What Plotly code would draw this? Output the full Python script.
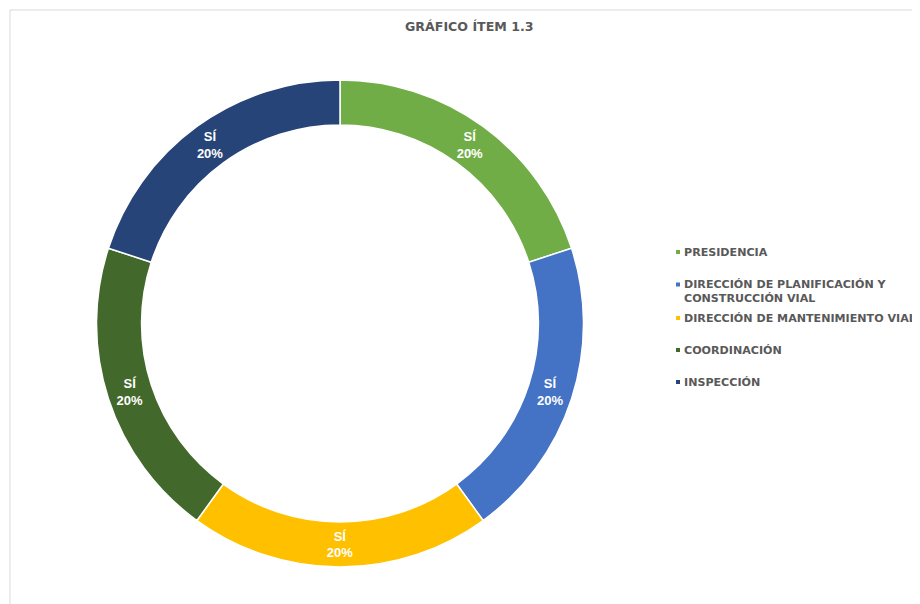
import plotly.graph_objects as go

categories = ["PRESIDENCIA", "DIRECCIÓN DE PLANIFICACIÓN Y CONSTRUCCIÓN VIAL",
              "DIRECCIÓN DE MANTENIMIENTO VIAL", "COORDINACIÓN", "INSPECCIÓN"]
legend_labels = ["PRESIDENCIA", "DIRECCIÓN DE PLANIFICACIÓN Y<br>CONSTRUCCIÓN VIAL",
                 "DIRECCIÓN DE MANTENIMIENTO VIAL", "COORDINACIÓN", "INSPECCIÓN"]
values = [20, 20, 20, 20, 20]
answer = ["SÍ", "SÍ", "SÍ", "SÍ", "SÍ"]
colors = ["#70AD47", "#4472C4", "#FFC000", "#43682B", "#264478"]

W, H = 920, 604
OFF = 8  # page body margin


def px(x):
    return (x - OFF) / W


def py(y):
    return 1 - (y - OFF) / H


fig = go.Figure(go.Pie(
    labels=categories,
    values=values,
    text=answer,
    texttemplate="<b>%{text}<br>%{percent:.0%}</b>",
    textposition="inside",
    insidetextorientation="horizontal",
    textfont=dict(family="Liberation Sans, Arial", size=13, color="white"),
    marker=dict(colors=colors, line=dict(color="white", width=1.5)),
    hole=0.815,
    sort=False,
    direction="clockwise",
    rotation=0,
    domain=dict(x=[px(95), px(585)], y=[py(567), py(80)]),
    showlegend=False,
))

legend_y = [252, 291, 318, 350, 382]
annotations = [dict(text="<b>GRÁFICO ÍTEM 1.3</b>", x=px(469), y=py(27),
                    xref="paper", yref="paper", showarrow=False,
                    xanchor="center", yanchor="middle",
                    font=dict(family="DejaVu Sans", size=12.6, color="#595959"))]
shapes = [dict(type="rect", xref="paper", yref="paper", x0=px(10), y0=-0.1, x1=1.1,
               y1=py(10), line=dict(color="#D9D9D9", width=1), fillcolor="rgba(0,0,0,0)",
               layer="below")]
for lab, c, yy in zip(legend_labels, colors, legend_y):
    nlines = lab.count("<br>") + 1
    annotations.append(dict(text="<b>" + lab + "</b>", x=px(682), y=py(yy),
                            xref="paper", yref="paper", showarrow=False,
                            xanchor="left", yanchor="middle", align="left",
                            font=dict(family="DejaVu Sans", size=11.1, color="#595959")))
    top = yy - (nlines - 1) * 6.5
    shapes.append(dict(type="rect", xref="paper", yref="paper",
                       x0=px(676), x1=px(680), y0=py(top + 2), y1=py(top - 2),
                       fillcolor=c, line=dict(width=0)))

fig.update_layout(
    width=W, height=H,
    margin=dict(l=0, r=0, t=0, b=0),
    paper_bgcolor="white",
    plot_bgcolor="white",
    annotations=annotations,
    shapes=shapes,
)

fig.write_html("out.html")
